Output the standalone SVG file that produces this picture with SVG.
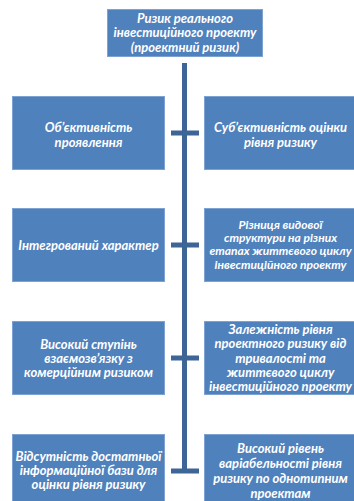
<svg xmlns="http://www.w3.org/2000/svg" width="354" height="501" viewBox="0 0 354 501">
<style>
.box{fill:#4F81BD;stroke:#7EA3D3;stroke-width:1}
.bar{fill:#3D6596}
text{font-family:Lato,"Open Sans","Liberation Sans",sans-serif;font-weight:bold;font-style:italic;font-size:13px;fill:#FFFFFF;text-anchor:middle}
.s{font-size:12px}
</style>
<rect width="354" height="501" fill="#FFFFFF"/>
<g id="connectors">
<rect class="bar" x="182" y="63" width="5" height="410"/>
<rect class="bar" x="171" y="130.5" width="28" height="5"/>
<rect class="bar" x="171" y="242.5" width="28" height="5"/>
<rect class="bar" x="171" y="355.5" width="28" height="5"/>
<rect class="bar" x="171" y="468.5" width="28" height="5"/>
</g>
<g id="root">
<rect class="box" x="107.5" y="9.5" width="155" height="47"/>
<text x="185" y="22.5">Ризик реального</text>
<text x="185" y="37">інвестиційного проекту</text>
<text x="185" y="51.5">(проектний ризик)</text>
</g>
<g id="n1l">
<rect class="box" x="12.5" y="96.5" width="152" height="73"/>
<text x="88.5" y="131.5">Об’єктивність</text>
<text x="88.5" y="146.5">проявлення</text>
</g>
<g id="n1r">
<rect class="box" x="204.5" y="96.5" width="152" height="73"/>
<text x="280.5" y="131.5">Суб’єктивність оцінки</text>
<text x="280.5" y="146.5">рівня ризику</text>
</g>
<g id="n2l">
<rect class="box" x="12.5" y="208.5" width="152" height="73"/>
<text x="88.5" y="249.5">Інтегрований характер</text>
</g>
<g id="n2r">
<rect class="box" x="204.5" y="208.5" width="152" height="73"/>
<text class="s" x="280.5" y="229">Різниця видової</text>
<text class="s" x="280.5" y="242.2">структури на різних</text>
<text class="s" x="280.5" y="255.4">етапах життєвого циклу</text>
<text class="s" x="280.5" y="268.6">інвестиційного проекту</text>
</g>
<g id="n3l">
<rect class="box" x="12.5" y="321.5" width="152" height="73"/>
<text x="88.5" y="348.5">Високий ступінь</text>
<text x="88.5" y="362.5">взаємозв’язку з</text>
<text x="88.5" y="376.5">комерційним ризиком</text>
</g>
<g id="n3r">
<rect class="box" x="204.5" y="321.5" width="152" height="73"/>
<text x="280.5" y="333.5">Залежність рівня</text>
<text x="280.5" y="348">проектного ризику від</text>
<text x="280.5" y="362.5">тривалості та</text>
<text x="280.5" y="376.5">життєвого циклу</text>
<text x="280.5" y="390.5">інвестиційного проекту</text>
</g>
<g id="n4l">
<rect class="box" x="12.5" y="434.5" width="152" height="73"/>
<text x="88.5" y="460.5">Відсутність достатньої</text>
<text x="88.5" y="474.5">інформаційної бази для</text>
<text x="88.5" y="488.5">оцінки рівня ризику</text>
</g>
<g id="n4r">
<rect class="box" x="204.5" y="434.5" width="152" height="73"/>
<text x="280.5" y="452.5">Високий рівень</text>
<text x="280.5" y="467.5">варіабельності рівня</text>
<text x="280.5" y="482.5">ризику по однотипним</text>
<text x="280.5" y="497.5">проектам</text>
</g>
</svg>
